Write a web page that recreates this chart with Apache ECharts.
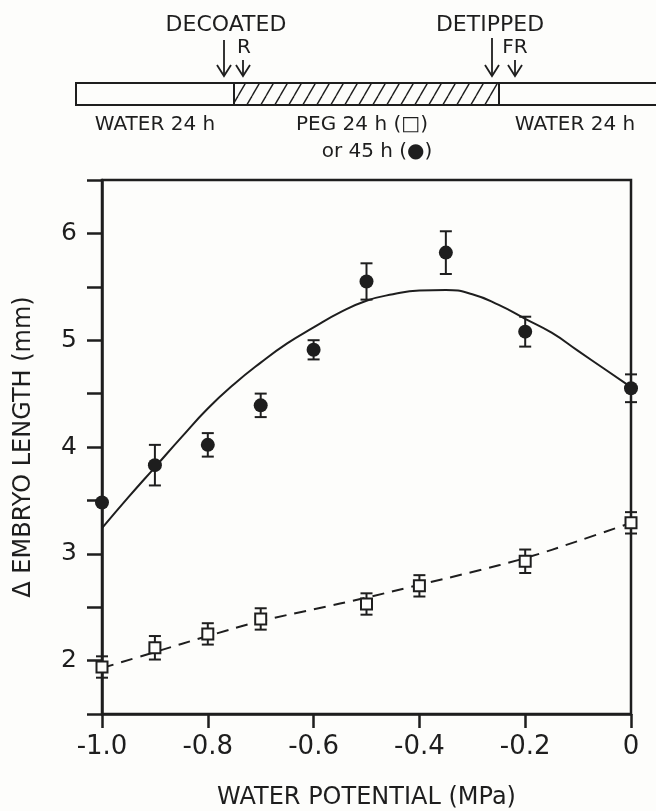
<!DOCTYPE html>
<html>
<head>
<meta charset="utf-8">
<script src="https://cdn.jsdelivr.net/npm/echarts@6/dist/echarts.min.js"></script>
<style>
  html, body { margin: 0; padding: 0; background: #fdfdfb; }
  #chart { width: 656px; height: 811px; }
</style>
</head>
<body>
<div id="chart"></div>
<script>
// 45 h in PEG (filled circles)
const xCircle = [-1.0, -0.9, -0.8, -0.7, -0.6, -0.5, -0.35, -0.2, 0];
const yCircle = [3.48, 3.83, 4.02, 4.39, 4.91, 5.55, 5.82, 5.08, 4.55];
const errCircle = [0, 0.19, 0.11, 0.11, 0.09, 0.17, 0.2, 0.14, 0.13];

// 24 h in PEG (open squares)
const xSquare = [-1.0, -0.9, -0.8, -0.7, -0.5, -0.4, -0.2, 0];
const ySquare = [1.94, 2.12, 2.25, 2.39, 2.53, 2.70, 2.93, 3.29];
const errSquare = [0.1, 0.11, 0.1, 0.1, 0.1, 0.1, 0.11, 0.1];

// hand-fitted curves
const fitX45 = [-1.0, -0.95, -0.9, -0.85, -0.8, -0.75, -0.7, -0.65, -0.6, -0.55, -0.5, -0.45, -0.4, -0.35, -0.3, -0.25, -0.2, -0.15, -0.1, -0.05, 0];
const fitY45 = [3.24, 3.53, 3.81, 4.09, 4.36, 4.59, 4.79, 4.97, 5.12, 5.26, 5.37, 5.43, 5.465, 5.47, 5.43, 5.33, 5.20, 5.07, 4.90, 4.73, 4.56];
const fitX24 = [-1.0, -0.9, -0.8, -0.7, -0.6, -0.5, -0.4, -0.3, -0.2, -0.1, 0];
const fitY24 = [1.93, 2.08, 2.23, 2.37, 2.48, 2.59, 2.71, 2.83, 2.96, 3.12, 3.29];

const xTicks = [-1.0, -0.8, -0.6, -0.4, -0.2, 0];
const yTicks = [2, 3, 4, 5, 6];

const ink = '#1e1e1e';
const paper = '#fdfdfb';
const font = 'DejaVu Sans';
const zip = (xs, ys) => xs.map((x, i) => [x, ys[i]]);
const bars = (xs, ys, es) => xs.map((x, i) => [x, ys[i] - es[i], ys[i] + es[i]]).filter(d => d[2] > d[1]);

// hatch tile for the PEG period
const hatch = document.createElement('canvas');
hatch.width = 14; hatch.height = 24;
const hc = hatch.getContext('2d');
hc.strokeStyle = ink; hc.lineWidth = 1.4;
[-14, 0, 14].forEach(o => { hc.beginPath(); hc.moveTo(o, 24); hc.lineTo(o + 14, 0); hc.stroke(); });

function errorBar(params, api) {
  const x = api.value(0);
  const top = api.coord([x, api.value(2)]);
  const bot = api.coord([x, api.value(1)]);
  const hw = 6;
  const st = { stroke: ink, lineWidth: 2 };
  return {
    type: 'group',
    children: [
      { type: 'line', shape: { x1: top[0], y1: top[1], x2: bot[0], y2: bot[1] }, style: st },
      { type: 'line', shape: { x1: top[0] - hw, y1: top[1], x2: top[0] + hw, y2: top[1] }, style: st },
      { type: 'line', shape: { x1: bot[0] - hw, y1: bot[1], x2: bot[0] + hw, y2: bot[1] }, style: st }
    ]
  };
}

function arrow(x, y1, y2) {
  return [
    { type: 'line', shape: { x1: x, y1: y1, x2: x, y2: y2 }, style: { stroke: ink, lineWidth: 1.8 } },
    { type: 'polyline', shape: { points: [[x - 7, y2 - 11], [x, y2], [x + 7, y2 - 11]] }, style: { stroke: ink, lineWidth: 1.8, fill: null } }
  ];
}

function label(text, x, y, size) {
  return { type: 'text', x: x, y: y, style: { text: text, fill: ink, font: size + 'px "' + font + '"', align: 'center', verticalAlign: 'middle' } };
}

const chart = echarts.init(document.getElementById('chart'));
chart.setOption({
  backgroundColor: paper,
  animation: false,
  grid: {
    left: 102, right: 25, top: 180, bottom: 97,
    outerBoundsMode: 'none', containLabel: false,
    show: true, borderColor: ink, borderWidth: 2.5
  },
  xAxis: {
    type: 'value', min: -1.0, max: 0, interval: 0.2,
    name: 'WATER POTENTIAL (MPa)', nameLocation: 'middle', nameGap: 72,
    nameTextStyle: { color: ink, fontFamily: font, fontSize: 24 },
    axisLine: { onZero: false, lineStyle: { color: ink, width: 2.5 } },
    axisTick: { show: true, inside: false, length: 14, lineStyle: { color: ink, width: 2.5 } },
    axisLabel: {
      color: ink, fontFamily: font, fontSize: 26, margin: 20,
      formatter: v => { const t = xTicks.find(k => Math.abs(k - v) < 1e-6); return t === 0 ? '0' : t.toFixed(1); }
    },
    splitLine: { show: false }
  },
  yAxis: {
    type: 'value', min: 1.5, max: 6.5, interval: 0.5,
    name: '\u0394 EMBRYO LENGTH (mm)', nameLocation: 'middle', nameGap: 66,
    nameTextStyle: { color: ink, fontFamily: font, fontSize: 24 },
    axisLine: { onZero: false, lineStyle: { color: ink, width: 2.5 } },
    axisTick: { show: true, inside: false, length: 15, lineStyle: { color: ink, width: 2.5 } },
    axisLabel: {
      color: ink, fontFamily: font, fontSize: 25, margin: 25,
      formatter: v => yTicks.some(k => Math.abs(k - v) < 1e-6) ? String(Math.round(v)) : ''
    },
    splitLine: { show: false }
  },
  graphic: [
    { type: 'rect', shape: { x: 234, y: 83, width: 265, height: 22 }, style: { fill: { image: hatch, repeat: 'repeat' }, stroke: null } },
    { type: 'rect', shape: { x: 76, y: 83, width: 590, height: 22 }, style: { fill: null, stroke: ink, lineWidth: 2 } },
    { type: 'line', shape: { x1: 234, y1: 83, x2: 234, y2: 105 }, style: { stroke: ink, lineWidth: 2 } },
    { type: 'line', shape: { x1: 499, y1: 83, x2: 499, y2: 105 }, style: { stroke: ink, lineWidth: 2 } },
    ...arrow(224, 40, 76),
    ...arrow(243, 60, 76),
    ...arrow(492, 38, 76),
    ...arrow(515, 60, 76),
    label('DECOATED', 226, 25, 22),
    label('R', 244, 48, 20),
    label('DETIPPED', 490, 25, 22),
    label('FR', 515, 48, 20),
    label('WATER 24 h', 155, 125, 20),
    label('PEG 24 h (\u25A1)', 362, 125, 20),
    label('or 45 h (\u25CF)', 377, 152, 20),
    label('WATER 24 h', 575, 125, 20)
  ],
  series: [
    {
      type: 'line', data: zip(fitX45, fitY45), smooth: 0.5, symbol: 'none',
      lineStyle: { color: ink, width: 2 }, z: 2
    },
    {
      type: 'line', data: zip(fitX24, fitY24), smooth: 0.4, symbol: 'none',
      lineStyle: { color: ink, width: 2, type: [12, 8] }, z: 2
    },
    { type: 'custom', data: bars(xCircle, yCircle, errCircle), renderItem: errorBar, z: 3 },
    { type: 'custom', data: bars(xSquare, ySquare, errSquare), renderItem: errorBar, z: 3 },
    {
      type: 'scatter', data: zip(xCircle, yCircle), symbol: 'circle', symbolSize: 14, clip: false,
      itemStyle: { color: ink, opacity: 1 }, z: 4
    },
    {
      type: 'scatter', data: zip(xSquare, ySquare), symbol: 'rect', symbolSize: 11, clip: false,
      itemStyle: { color: paper, borderColor: ink, borderWidth: 2, opacity: 1 }, z: 4
    }
  ]
});
</script>
</body>
</html>
